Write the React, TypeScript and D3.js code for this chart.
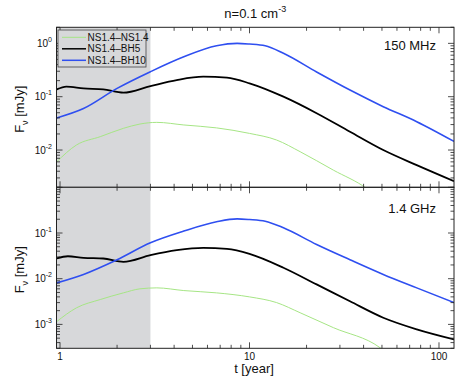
import React from "react";
import * as d3 from "d3";

// 150 MHz, [t in years, flux in mJy]
const blue150 = [
  [0.96, 0.04], [1.33, 0.06], [2.0, 0.143], [3.0, 0.294], [4.5, 0.56], [6.7, 0.9], [8.6, 1.0], [10, 0.97],
  [12.1, 0.9], [15.1, 0.65], [22.6, 0.29], [33.9, 0.133], [50.8, 0.065], [76.3, 0.034], [120, 0.0145],
];
const black150 = [
  [0.96, 0.137], [1.08, 0.155], [1.33, 0.143], [1.69, 0.137], [2.16, 0.119], [3.0, 0.158], [4.13, 0.205],
  [5.7, 0.237], [7.6, 0.227], [10, 0.178], [15.1, 0.1], [22.6, 0.049], [33.9, 0.022], [50.8, 0.01],
  [76.3, 0.0052], [120, 0.0026],
];
const green150 = [
  [0.96, 0.006], [1.22, 0.0124], [1.63, 0.0178], [2.16, 0.0255], [2.64, 0.0307], [3.24, 0.033], [4.5, 0.0295],
  [6.7, 0.026], [10, 0.0205], [13.9, 0.0154], [18.5, 0.0093], [27.7, 0.0042], [41.5, 0.0019], [50, 0.0011],
];

// 1.4 GHz
const blue14 = [
  [0.96, 0.0081], [1.33, 0.0124], [2.0, 0.026], [3.0, 0.061], [4.5, 0.11], [6.7, 0.176], [8.6, 0.204], [10, 0.197],
  [12.1, 0.181], [15.1, 0.13], [22.6, 0.056], [33.9, 0.026], [50.8, 0.0124], [76.3, 0.0063], [120, 0.003],
];
const black14 = [
  [0.96, 0.0277], [1.1, 0.031], [1.33, 0.0286], [1.69, 0.0277], [2.16, 0.0234], [3.0, 0.0327], [4.13, 0.042],
  [5.7, 0.0474], [7.6, 0.045], [10, 0.035], [15.1, 0.0174], [22.6, 0.0075], [33.9, 0.0032], [50.8, 0.0014],
  [76.3, 0.00078], [120, 0.00047],
];
const green14 = [
  [0.96, 0.00115], [1.22, 0.0023], [1.63, 0.0035], [2.16, 0.0049], [2.64, 0.006], [3.24, 0.0063], [4.5, 0.0055],
  [6.7, 0.0049], [10, 0.004], [13.9, 0.003], [18.5, 0.0018], [27.7, 0.00085], [48.8, 0.00031], [60, 0.00015],
];

const seriesNames = ["NS1.4\u2013NS1.4", "NS1.4\u2013BH5", "NS1.4\u2013BH10"];
const seriesColors = ["#a6e585", "#000000", "#2f4ff0"];
const seriesWidths = [1, 1.8, 1.6];
const legendWidths = [1, 1.5, 1.5];
const shadeEnd = 3;
const xTickLabels = [1, 10, 100];

const W = 463;
const H = 388;
const left = 56.5;
const right = 454;
const font = "Liberation Sans, Arial, Helvetica, sans-serif";

const x = d3.scaleLog().domain([0.958, 120]).range([left, right]);

type P = number[][];

function Panel({ id, top, bottom, ydom, decades, data, label, labelY }: {
  id: string; top: number; bottom: number; ydom: [number, number]; decades: number[]; data: P[]; label: string; labelY: number;
}) {
  const y = d3.scaleLog().domain(ydom).range([bottom, top]);
  const line = d3.line<number[]>().x(d => x(d[0])).y(d => y(d[1])).curve(d3.curveMonotoneX);

  const xMinor: number[] = [];
  for (const base of [1, 10, 100]) for (let k = 1; k <= 9; k++) {
    const v = base * k;
    if (v >= 0.958 && v <= 120) xMinor.push(v);
  }
  const yMinor: number[] = [];
  for (let e = -5; e <= 1; e++) for (let k = 1; k <= 9; k++) {
    const v = k * Math.pow(10, e);
    if (v >= ydom[0] && v <= ydom[1]) yMinor.push(v);
  }
  const isMajor = (v: number) => Math.abs(Math.log10(v) - Math.round(Math.log10(v))) < 1e-6;

  return (
    <g>
      <defs>
        <clipPath id={id}>
          <rect x={left} y={top} width={right - left} height={bottom - top} />
        </clipPath>
      </defs>
      <rect x={left} y={top} width={x(shadeEnd) - left} height={bottom - top} fill="#d7d8da" />
      <g clipPath={`url(#${id})`}>
        {data.map((d, i) => (
          <path key={i} d={line(d) || ""} fill="none" stroke={seriesColors[i]} strokeWidth={seriesWidths[i]} />
        ))}
      </g>
      {xMinor.map(v => {
        const len = isMajor(v) ? 6 : 3.5;
        return (
          <g key={"x" + v} stroke="#222" strokeWidth={0.8}>
            <line x1={x(v)} x2={x(v)} y1={bottom} y2={bottom - len} />
            <line x1={x(v)} x2={x(v)} y1={top} y2={top + len} />
          </g>
        );
      })}
      {yMinor.map(v => {
        const len = isMajor(v) ? 6 : 3.5;
        return (
          <g key={"y" + v} stroke="#222" strokeWidth={0.8}>
            <line x1={left} x2={left + len} y1={y(v)} y2={y(v)} />
            <line x1={right} x2={right - len} y1={y(v)} y2={y(v)} />
          </g>
        );
      })}
      <rect x={left} y={top} width={right - left} height={bottom - top} fill="none" stroke="#222" strokeWidth={1} />
      {decades.map(e => (
        <text key={e} x={52} y={y(Math.pow(10, e)) + 3.5} textAnchor="end" fontSize={10} fontFamily={font} fill="#111">
          10<tspan dy={-5} fontSize={7}>{e}</tspan>
        </text>
      ))}
      <text x={436} y={labelY} textAnchor="end" fontSize={13} fontFamily={font} fill="#111">
        {label}
      </text>
      <text transform={`translate(24,${(top + bottom) / 2 + 2}) rotate(-90)`} textAnchor="middle" fontSize={13} fontFamily={font} fill="#111">
        F<tspan dy={4} fontSize={9}>{"\u03bd"}</tspan><tspan dy={-4}>{" [mJy]"}</tspan>
      </text>
    </g>
  );
}

export default function App() {
  return (
    <svg width={W} height={H} style={{ position: "absolute", left: 0, top: 0 }}>
      <rect width={W} height={H} fill="#fff" />
      <text x={(left + right) / 2} y={18} textAnchor="middle" fontSize={13} fontFamily={font} fill="#111">
        n=0.1 cm<tspan dy={-6} fontSize={9}>-3</tspan>
      </text>
      <Panel id="c1" top={27.3} bottom={187.3} ydom={[0.002, 2]} decades={[0, -1, -2]}
        data={[green150, black150, blue150]} label="150 MHz" labelY={50} />
      <Panel id="c2" top={187.3} bottom={348.3} ydom={[0.0003, 1]} decades={[-1, -2, -3]}
        data={[green14, black14, blue14]} label="1.4 GHz" labelY={212.5} />
      {xTickLabels.map(v => (
        <text key={v} x={x(v)} y={360} textAnchor="middle" fontSize={10} fontFamily={font} fill="#111">{v}</text>
      ))}
      <text x={254} y={373} textAnchor="middle" fontSize={13} fontFamily={font} fill="#111">t [year]</text>
      <g>
        <rect x={58} y={30} width={88} height={37} fill="#d7d8da" stroke="#444" strokeWidth={0.8} />
        {seriesNames.map((n, i) => {
          const yy = 37.3 + i * 11.5;
          return (
            <g key={n}>
              <line x1={62} x2={86} y1={yy} y2={yy} stroke={seriesColors[i]} strokeWidth={legendWidths[i]} />
              <text x={87.5} y={yy + 3.5} fontSize={10} fontFamily={font} fill="#111">{n}</text>
            </g>
          );
        })}
      </g>
    </svg>
  );
}
